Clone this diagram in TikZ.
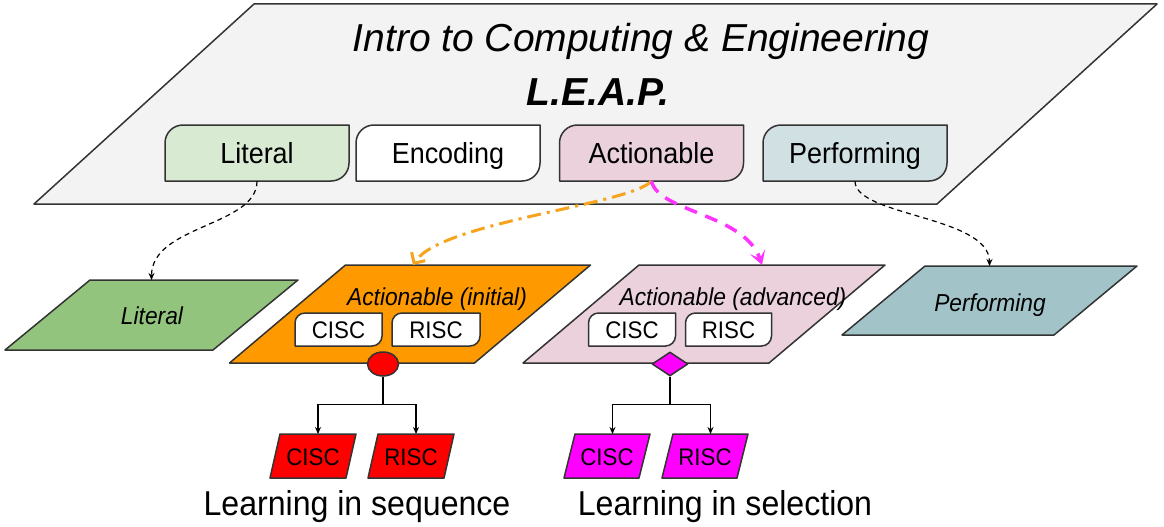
\documentclass[tikz,border=0pt]{standalone}
\usepackage{fontspec}
\setmainfont{Liberation Sans}
\newfontfamily\narrowsans{Liberation Sans}[FakeStretch=0.93]
\usetikzlibrary{arrows.meta,shapes.geometric,calc}
\definecolor{edge}{HTML}{333333}
\definecolor{bigfill}{HTML}{F3F3F3}
\definecolor{litTop}{HTML}{D9EAD3}
\definecolor{actTop}{HTML}{EAD1DC}
\definecolor{perfTop}{HTML}{D0E0E3}
\definecolor{litLow}{HTML}{93C47D}
\definecolor{orng}{HTML}{FF9900}
\definecolor{perfLow}{HTML}{A2C4C9}
\definecolor{arrOrange}{HTML}{F6A31E}
\definecolor{arrMag}{HTML}{FF33FF}
\definecolor{selMag}{HTML}{FF00FF}
\definecolor{seqRed}{HTML}{FF0000}
% rounded box: name, cx, cy, w, h, radius, fill, label style, text
\newcommand\rbox[9]{%
 \draw[shapeline, fill=#7] ({#2-#4/2},{#3+#5/2}) -- ({#2-#4/2},{#3-#5/2+#6})
   arc[start angle=180,end angle=90,radius=#6pt] -- ({#2+#4/2},{#3-#5/2})
   -- ({#2+#4/2},{#3+#5/2-#6}) arc[start angle=0,end angle=-90,radius=#6pt] -- cycle;
 \node[#8, minimum width=#4pt, minimum height=#5pt] (#1) at (#2,#3) {#9};}
% parallelogram: name, cx, cy, w, h, slant, fill
\newcommand\para[7]{%
 \draw[shapeline, fill=#7] ({#2-#4/2-#6/2},{#3+#5/2}) -- ({#2-#4/2+#6/2},{#3-#5/2})
   -- ({#2+#4/2+#6/2},{#3-#5/2}) -- ({#2+#4/2-#6/2},{#3+#5/2}) -- cycle;
 \node[anchorbox, minimum width=#4pt, minimum height=#5pt] (#1) at (#2,#3) {};}
\begin{document}
\begin{tikzpicture}[x=1pt,y=-1pt,
  shapeline/.style={draw=edge, line width=1.5pt, line join=round},
  anchorbox/.style={inner sep=0pt, outer sep=0pt, draw=none},
  titlelbl/.style={font=\fontsize{39}{45}\selectfont\itshape, inner sep=0pt, anchor=base},
  leaplbl/.style={font=\fontsize{39}{45}\selectfont\bfseries\itshape, inner sep=0pt, anchor=base},
  toplbl/.style={font=\narrowsans\fontsize{29}{34}\selectfont, inner sep=0pt, text height=20.8pt, text depth=0pt},
  sublbl/.style={font=\narrowsans\fontsize{24}{28}\selectfont, inner sep=0pt, text height=17.2pt, text depth=0pt},
  lowlbl/.style={font=\narrowsans\fontsize{24.5}{29}\selectfont\itshape, inner sep=0pt, anchor=base},
  botlbl/.style={font=\narrowsans\fontsize{24}{28}\selectfont, inner sep=0pt, anchor=base},
  caplbl/.style={font=\narrowsans\fontsize{34.5}{40}\selectfont, inner sep=0pt, anchor=base},
  blkdash/.style={draw=black, line width=1.2pt, dash pattern=on 5pt off 4pt, -{Stealth[length=7pt,width=6pt]}},
  orgarrow/.style={draw=arrOrange, line width=3pt, dash pattern=on 14pt off 6pt on 3pt off 6pt, -{Straight Barb[length=8pt,width=16pt]}},
  magarrow/.style={draw=arrMag, line width=3.5pt, dash pattern=on 13pt off 9pt, -{Stealth[length=14pt,width=16pt,inset=7pt]}},
  treeline/.style={draw=black, line width=1.3pt},
  treearrow/.style={treeline, -{Stealth[length=7pt,width=6pt]}}
]
\useasboundingbox[fill=white] (0,0) rectangle (1164,527);

% top platform
\para{big}{595.5}{104}{903}{200}{220}{bigfill}
\node[titlelbl] (ttl) at (641,52) {Intro to Computing \& Engineering};
\node[leaplbl] (leap) at (598,105) {L.E.A.P.};
\rbox{litT}{257}{153}{184}{56}{18}{litTop}{toplbl}{Literal}
\rbox{encT}{448}{153}{184}{56}{18}{white}{toplbl}{Encoding}
\rbox{actT}{651.5}{153}{184}{56}{18}{actTop}{toplbl}{Actionable}
\rbox{perfT}{855}{153}{184}{56}{18}{perfTop}{toplbl}{Performing}

% lower row
\para{litL}{151.5}{315}{208}{70}{85}{litLow}
\node[lowlbl] (litLtxt) at (152,324) {Literal};

\para{ini}{410}{314}{245}{98}{116}{orng}
\rbox{iniC}{338.5}{329.5}{87}{33}{10}{white}{sublbl}{CISC}
\rbox{iniR}{436}{329.5}{88}{33}{10}{white}{sublbl}{RISC}
\node[lowlbl] (initxt) at (437,305) {Actionable (initial)};

\para{adv}{704}{314}{246}{98}{116}{actTop}
\rbox{advC}{632}{329.5}{87}{33}{10}{white}{sublbl}{CISC}
\rbox{advR}{728.5}{329.5}{86}{33}{10}{white}{sublbl}{RISC}
\node[lowlbl] (advtxt) at (733,305) {Actionable (advanced)};

\para{perfL}{989.5}{300.5}{212}{69}{83}{perfLow}
\node[lowlbl] (perfLtxt) at (990,311) {Performing};

% connectors from platform
\draw[blkdash] (litT.south) .. controls +(0,45) and +(0,-55) .. (litL.north);
\draw[blkdash] (perfT.south) .. controls +(0,35) and +(0,-50) .. (perfL.north);
\draw[orgarrow] (actT.south) .. controls +(-23,24) and +(27,-43) .. ([xshift=3pt]ini.north);
\draw[magarrow] (actT.south) .. controls +(7,31) and +(-17,-51) .. ([xshift=58pt]adv.north);

% sequence branch
\para{seqC}{313}{456}{76}{44}{10}{seqRed}
\para{seqR}{411}{456}{76}{44}{10}{seqRed}
\node[botlbl] (seqCtxt) at (313,465) {CISC};
\node[botlbl] (seqRtxt) at (411,465) {RISC};
\node[ellipse, shapeline, fill=seqRed, minimum width=31pt, minimum height=24pt, inner sep=0pt] (seq) at (383,364) {};
\coordinate (seqFork) at ($(seq.south)+(0,28)$);
\draw[treeline] (seq.south) -- (seqFork);
\draw[treearrow] (seqFork) -| ([xshift=5pt]seqC.north);
\draw[treearrow] (seqFork) -| ([xshift=5pt]seqR.north);
\node[caplbl] (capSeq) at (357,515) {Learning in sequence};

% selection branch
\para{selC}{607}{456}{75}{44}{11}{selMag}
\para{selR}{705}{456}{75}{44}{11}{selMag}
\node[botlbl] (selCtxt) at (607,465) {CISC};
\node[botlbl] (selRtxt) at (705,465) {RISC};
\node[diamond, shapeline, fill=selMag, minimum width=36pt, minimum height=24pt, inner sep=0pt] (sel) at (670,364) {};
\coordinate (selFork) at ($(sel.south)+(0,28)$);
\draw[treeline] (sel.south) -- (selFork);
\draw[treearrow] (selFork) -| ([xshift=5.5pt]selC.north);
\draw[treearrow] (selFork) -| ([xshift=5.5pt]selR.north);
\node[caplbl] (capSel) at (725,515) {Learning in selection};
\end{tikzpicture}
\end{document}
